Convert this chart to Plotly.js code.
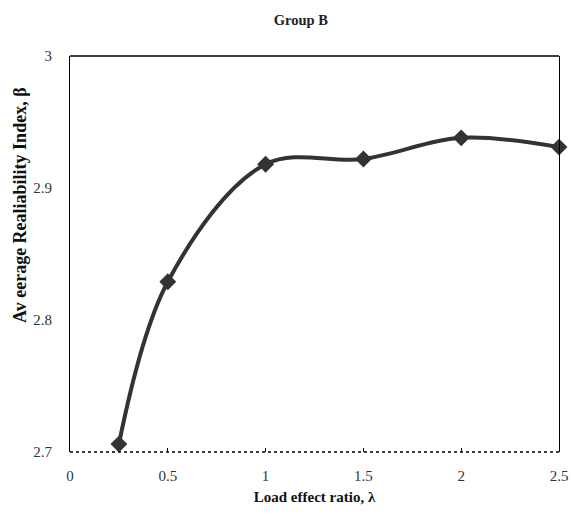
<!DOCTYPE html>
<html>
<head>
<meta charset="utf-8">
<script src="https://cdn.plot.ly/plotly-3.0.1.min.js"></script>
<style>html,body{margin:0;padding:0;background:#fff;}#chart{width:571px;height:515px;}</style>
</head>
<body>
<div id="chart"></div>
<script>
const loadRatio = [0.25, 0.5, 1, 1.5, 2, 2.5];
const beta = [2.706, 2.829, 2.918, 2.922, 2.938, 2.931];
const xTicks = [0, 0.5, 1, 1.5, 2, 2.5];
const yTicks = [2.7, 2.8, 2.9, 3];
const yTickText = ['2.7', '2.8', '2.9', '3'];

const trace = {
  x: loadRatio, y: beta, type: 'scatter', mode: 'lines+markers',
  line: {shape: 'spline', smoothing: 1, color: '#333333', width: 4},
  marker: {symbol: 'diamond', size: 13, color: '#333333'},
  cliponaxis: false, hoverinfo: 'none'
};

const font = 'Liberation Serif, Times New Roman, serif';
const layout = {
  width: 571, height: 515,
  margin: {l: 70, r: 12, t: 56, b: 63},
  paper_bgcolor: '#fff', plot_bgcolor: '#fff',
  showlegend: false,
  font: {family: font, color: '#222', size: 14},
  title: {text: '<b>Group B</b>', font: {family: font, size: 14.5, color: '#222'},
          x: 0.527, xref: 'container', xanchor: 'center', y: 0.962, yref: 'container', yanchor: 'middle'},
  xaxis: {
    range: [0, 2.5], tickvals: xTicks, ticktext: xTicks.map(String),
    showgrid: false, zeroline: false, showline: false,
    ticks: 'inside', ticklen: 4, tickwidth: 1, tickcolor: '#000',
    ticklabelstandoff: 13,
    tickfont: {family: font, size: 15, color: '#333'},
    title: {text: '<b>Load effect ratio, λ</b>', font: {family: font, size: 15, color: '#111'}, standoff: 8}
  },
  yaxis: {
    range: [2.7, 3], tickvals: yTicks, ticktext: yTickText,
    showgrid: false, zeroline: false, showline: true, linecolor: '#000', linewidth: 1, mirror: true,
    ticks: '', ticklabelstandoff: 14,
    tickfont: {family: font, size: 15, color: '#333'}
  },
  annotations: [
    {text: '<b>Av eerage Realiability Index, β</b>', textangle: -90, showarrow: false,
     xref: 'paper', yref: 'paper', x: (20 - 70) / 489, y: (452 - 205) / 396,
     xanchor: 'center', yanchor: 'middle',
     font: {family: font, size: 18, color: '#111'}}
  ],
  shapes: [
    {type: 'line', xref: 'paper', yref: 'paper', x0: 0, x1: 1, y0: 1, y1: 1, line: {color: '#000', width: 1.5}},
    {type: 'line', xref: 'paper', yref: 'paper', x0: 0, x1: 1, y0: 0, y1: 0, line: {color: '#000', width: 1.5, dash: 'dot'}}
  ]
};

Plotly.newPlot('chart', [trace], layout, {displayModeBar: false, staticPlot: true});
</script>
</body>
</html>
